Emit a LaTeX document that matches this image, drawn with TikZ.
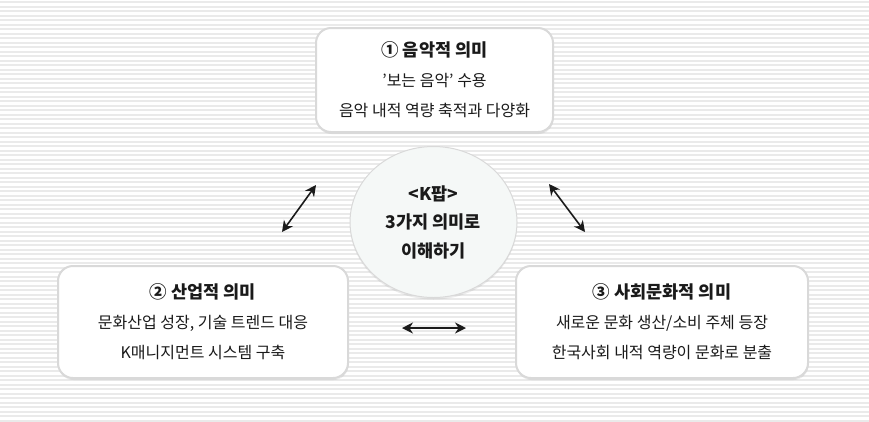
\documentclass[tikz,border=0pt]{standalone}
\usepackage{fontspec}
\setmainfont{Noto Sans CJK KR}
\usepackage{tikz}
\usetikzlibrary{arrows.meta,shadows,shapes.geometric}
\definecolor{stripe}{HTML}{EAEAEA}
\definecolor{rim}{HTML}{D9D9D9}
\definecolor{ink}{HTML}{1A1A1A}
\definecolor{core}{HTML}{F5F8F7}
\tikzset{
  >={Stealth[length=11pt,width=11pt]},
  every node/.style={font=\fontsize{16}{30}\selectfont,text=ink},
  card/.style={rounded corners=15pt,draw=rim,line width=2pt,fill=white,align=center,
    drop shadow={shadow xshift=0.5pt,shadow yshift=-2pt,opacity=0.15}},
  hub/.style={ellipse,draw=rim,line width=1pt,fill=core,align=center,
    minimum width=167pt,minimum height=151pt,font=\bfseries\fontsize{17.5}{28.5}\selectfont,
    drop shadow={shadow xshift=0pt,shadow yshift=-2pt,opacity=0.15}},
  link/.style={<->,line width=1.6pt,ink},
}
\newcommand{\headline}[1]{{\bfseries\fontsize{17.5}{30}\selectfont #1}}

\begin{document}
\begin{tikzpicture}[x=1pt,y=-1pt]
  % background stripes
  \fill[white] (0,0) rectangle (869,421);
  \foreach \i in {0,...,93}
    \fill[stripe] (0,\i*4.5+1) rectangle (869,\i*4.5+3);
  \useasboundingbox (0,0) rectangle (869,421);

  \node[card,minimum width=237pt,minimum height=104pt] (music) at (434.5,80)
    {\headline{① 음악적 의미}\\'보는 음악' 수용\\음악 내적 역량 축적과 다양화};
  \node[card,minimum width=290pt,minimum height=112pt] (industry) at (203,322)
    {\headline{② 산업적 의미}\\문화산업 성장, 기술 트렌드 대응\\K매니지먼트 시스템 구축};
  \node[card,minimum width=292pt,minimum height=112pt] (society) at (662,322)
    {\headline{③ 사회문화적 의미}\\새로운 문화 생산/소비 주체 등장\\한국사회 내적 역량이 문화로 분출};
  \node[hub] (kpop) at (433.5,222) {<K팝>\\3가지 의미로\\이해하기};

  \coordinate (la) at (282,232);
  \coordinate (lb) at (316,185);
  \coordinate (ra) at (549,184);
  \coordinate (rb) at (585,232);
  \coordinate (ba) at (402,328);
  \coordinate (bb) at (466,328);
  \draw[link] (la) -- (lb);
  \draw[link] (ra) -- (rb);
  \draw[link] (ba) -- (bb);
\end{tikzpicture}
\end{document}
